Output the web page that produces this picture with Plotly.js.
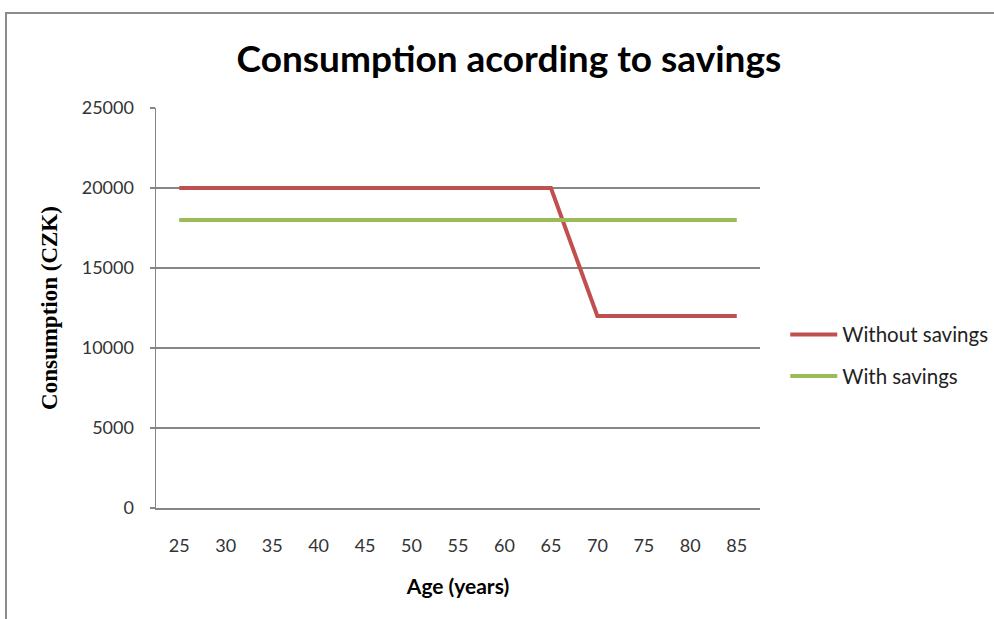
<!DOCTYPE html>
<html>
<head>
<meta charset="utf-8">
<script src="https://cdn.plot.ly/plotly-3.0.1.min.js"></script>
<style>
  html, body { margin: 0; padding: 0; background: #fff; }
  #wrap { position: relative; width: 994px; height: 619px; overflow: hidden; }
  #chart { position: absolute; left: 0; top: 0; width: 994px; height: 619px; }
  #frame { position: absolute; left: 5px; top: 12px; width: 1000px; height: 700px;
           border-left: 2px solid #8c8c8c; border-top: 2px solid #8c8c8c; pointer-events: none; }
</style>
</head>
<body>
<div id="wrap">
  <div id="chart"></div>
  <div id="frame"></div>
</div>
<script>
// Age in years (category positions along the x axis)
const ages = [25, 30, 35, 40, 45, 50, 55, 60, 65, 70, 75, 80, 85];
// Consumption in CZK
const withoutSavings = [20000, 20000, 20000, 20000, 20000, 20000, 20000, 20000, 20000, 12000, 12000, 12000, 12000];
const withSavings    = [18000, 18000, 18000, 18000, 18000, 18000, 18000, 18000, 18000, 18000, 18000, 18000, 18000];
const yTicks = [0, 5000, 10000, 15000, 20000, 25000];

const sans = 'Lato, "Open Sans", sans-serif';

const traces = [
  { x: ages, y: withoutSavings, name: 'Without savings', legendgroup: 'a', type: 'scatter', mode: 'lines',
    line: { color: '#C0504D', width: 4 } },
  { x: ages, y: withSavings, name: 'With savings', legendgroup: 'b', type: 'scatter', mode: 'lines',
    line: { color: '#9BBB59', width: 4 } }
];

const layout = {
  width: 994, height: 619,
  margin: { l: 156, r: 234, t: 108, b: 111 },
  paper_bgcolor: '#fff', plot_bgcolor: '#fff',
  font: { family: sans, color: '#333', size: 18 },
  title: { text: '<b>Consumption acording to savings</b>',
           font: { family: sans, size: 37, color: '#000' },
           x: 0.512, xanchor: 'center', y: 0.905, yanchor: 'middle' },
  xaxis: {
    range: [22.5, 87.5], tickvals: ages, ticktext: ages.map(String),
    showgrid: false, zeroline: false, showline: true, linecolor: '#868686', linewidth: 1.5, ticks: '',
    tickfont: { family: sans, size: 18, color: '#333' }, ticklabelstandoff: 21,
    title: { text: '<b>Age (years)</b>', font: { family: sans, size: 21, color: '#000' }, standoff: 24 }
  },
  yaxis: {
    range: [0, 25000], tickvals: yTicks, ticktext: yTicks.map(String),
    showgrid: true, gridcolor: '#868686', gridwidth: 1.5,
    zeroline: false, showline: true, linecolor: '#868686', linewidth: 1.5,
    ticks: 'outside', ticklen: 5, tickcolor: '#868686', tickwidth: 1.5,
    tickfont: { family: sans, size: 18, color: '#333' }, ticklabelstandoff: 12,
    title: { text: '<b>Consumption (CZK)</b>',
             font: { family: '"Liberation Serif", "Times New Roman", serif', size: 23, color: '#000' },
             standoff: 17 }
  },
  showlegend: true,
  legend: { xref: 'container', yref: 'container',
            x: 0.790, xanchor: 'left', y: 0.4255, yanchor: 'middle',
            font: { family: sans, size: 20.5, color: '#222' },
            traceorder: 'grouped', tracegroupgap: 12, itemwidth: 47,
            bgcolor: 'rgba(0,0,0,0)' }
};

Plotly.newPlot('chart', traces, layout, { staticPlot: true, displayModeBar: false });
</script>
</body>
</html>
